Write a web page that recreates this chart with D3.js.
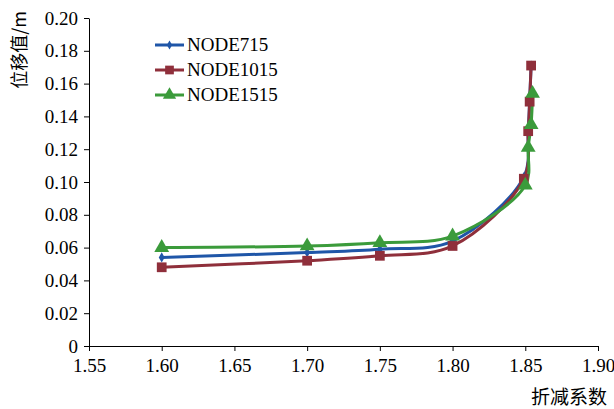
<!DOCTYPE html>
<html>
<head>
<meta charset="utf-8">
<script src="https://cdn.jsdelivr.net/npm/d3@7"></script>
<style>
  body { margin: 0; background: #fff; }
  .axis text { font-family: "Liberation Serif", serif; font-size: 19px; fill: #000; }
  .axis path, .axis line { stroke: #000; stroke-width: 1; }
</style>
</head>
<body>
<div id="chart"></div>
<script>
const WIDTH = 614;
const HEIGHT = 409;
const MARGIN = { top: 18, right: 16, bottom: 63, left: 89 };

const INNER_WIDTH = WIDTH - MARGIN.left - MARGIN.right;
const INNER_HEIGHT = HEIGHT - MARGIN.top - MARGIN.bottom;

// data
var seriesNames = ["NODE715", "NODE1015", "NODE1515"];
var node715X = [1.60, 1.70, 1.75, 1.80, 1.849, 1.852, 1.853, 1.854];
var node715Y = [0.054, 0.057, 0.059, 0.064, 0.103, 0.131, 0.150, 0.171];
var node1015X = [1.60, 1.70, 1.75, 1.80, 1.849, 1.852, 1.853, 1.854];
var node1015Y = [0.048, 0.052, 0.055, 0.061, 0.102, 0.131, 0.149, 0.171];
var node1515X = [1.60, 1.70, 1.75, 1.80, 1.850, 1.852, 1.854, 1.855];
var node1515Y = [0.060, 0.061, 0.063, 0.067, 0.098, 0.121, 0.135, 0.154];

var xTicks = [1.55, 1.60, 1.65, 1.70, 1.75, 1.80, 1.85, 1.90];
var yTicks = [0, 0.02, 0.04, 0.06, 0.08, 0.10, 0.12, 0.14, 0.16, 0.18, 0.20];

var colors = ["#1f56a8", "#8f2f3b", "#3b9b3b"];
var markers = [d3.symbolDiamond, d3.symbolSquare, d3.symbolTriangle];
var markerSizes = [30, 95, 95];

var translate = function (x, y) {
    return "translate(" + x + "," + y + ")";
};

var zip = function (xs, ys) {
    return xs.map(function (x, i) { return [x, ys[i]]; });
};

var series = [
    zip(node715X, node715Y),
    zip(node1015X, node1015Y),
    zip(node1515X, node1515Y)
];

var xScale = d3.scaleLinear().domain([1.55, 1.90]).range([0, INNER_WIDTH]);
var yScale = d3.scaleLinear().domain([0, 0.20]).range([INNER_HEIGHT, 0]);

var svg = d3.select("#chart").append("svg")
    .attr("width", WIDTH)
    .attr("height", HEIGHT);

var g = svg.append("g").attr("transform", translate(MARGIN.left, MARGIN.top));

var xAxis = d3.axisBottom(xScale).tickValues(xTicks).tickFormat(d3.format(".2f"))
    .tickSizeInner(5).tickSizeOuter(0).tickPadding(8);
var yAxis = d3.axisLeft(yScale).tickValues(yTicks)
    .tickFormat(function (d) { return d === 0 ? "0" : d3.format(".2f")(d); })
    .tickSizeInner(5).tickSizeOuter(0).tickPadding(6);

g.append("g").attr("class", "axis").attr("transform", translate(0, INNER_HEIGHT)).call(xAxis);
g.append("g").attr("class", "axis").call(yAxis);

var line = d3.line()
    .x(function (d) { return xScale(d[0]); })
    .y(function (d) { return yScale(d[1]); })
    .curve(d3.curveCatmullRom.alpha(0.5));

series.forEach(function (data, i) {
    g.append("path")
        .attr("d", line(data))
        .attr("fill", "none")
        .attr("stroke", colors[i])
        .attr("stroke-width", 3);
});

series.forEach(function (data, i) {
    g.selectAll(".m" + i)
        .data(data)
        .enter()
        .append("path")
        .attr("class", "m" + i)
        .attr("d", d3.symbol().type(markers[i]).size(markerSizes[i]))
        .attr("transform", function (d) { return translate(xScale(d[0]), yScale(d[1])); })
        .attr("fill", colors[i]);
});

// legend
var legend = svg.append("g").attr("transform", translate(155, 45));
seriesNames.forEach(function (name, i) {
    var row = legend.append("g").attr("transform", translate(0, i * 25));
    row.append("line").attr("x1", 0).attr("x2", 29).attr("y1", 0).attr("y2", 0)
        .attr("stroke", colors[i]).attr("stroke-width", 3);
    row.append("path")
        .attr("d", d3.symbol().type(markers[i]).size(markerSizes[i] * 0.8))
        .attr("transform", translate(14.5, 0))
        .attr("fill", colors[i]);
    row.append("text").attr("x", 32).attr("y", 6)
        .attr("font-family", "Liberation Serif, serif").attr("font-size", 19)
        .text(name);
});

// axis titles
svg.append("text")
    .attr("x", 607).attr("y", 404)
    .attr("text-anchor", "end")
    .attr("font-family", "Noto Sans CJK SC, sans-serif").attr("font-size", 19)
    .text("折减系数");

svg.append("text")
    .attr("transform", translate(26, 50) + " rotate(-90)")
    .attr("text-anchor", "middle")
    .attr("font-family", "Noto Sans CJK SC, sans-serif").attr("font-size", 18)
    .text("位移值/m");
</script>
</body>
</html>
